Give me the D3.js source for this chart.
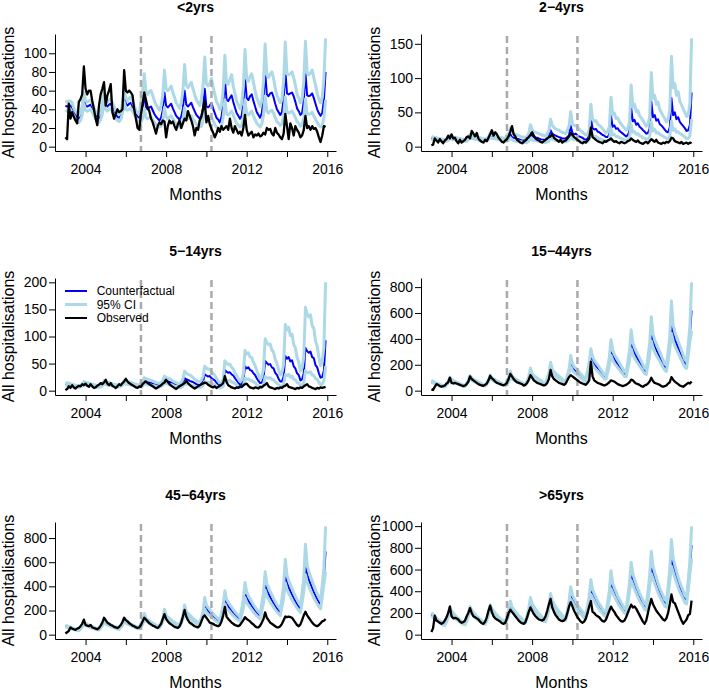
<!DOCTYPE html>
<html><head><meta charset="utf-8">
<script src="https://cdn.jsdelivr.net/npm/d3@7"></script>
<style>
body{margin:0;background:#fff;}
svg{display:block;font-family:"Liberation Sans",Arial,Helvetica,sans-serif;}
</style>
</head><body>
<svg id="chart" width="709" height="691"></svg>
<script>
// ---------------- DATA (monthly, Jan 2003 .. Dec 2015) ----------------
const startYear = 2003;
const nMonths = 156;
const xTickValues = [2004, 2006, 2008, 2010, 2012, 2014, 2016];
const xTickLabels = ["2004", "", "2008", "", "2012", "", "2016"];
const interventionDates = [2006.75, 2010.25];
const panelTitles = ["<2yrs", "2\u22124yrs", "5\u221214yrs", "15\u221244yrs", "45\u221264yrs", ">65yrs"];
const yTicks_lt2 = [0, 20, 40, 60, 80, 100];
const yTicks_2_4 = [0, 50, 100, 150];
const yTicks_5_14 = [0, 50, 100, 150, 200];
const yTicks_15_44 = [0, 200, 400, 600, 800];
const yTicks_45_64 = [0, 200, 400, 600, 800];
const yTicks_65 = [0, 200, 400, 600, 800, 1000];
const legendLabels = ["Counterfactual", "95% CI", "Observed"];

// <2yrs
const obs_lt2 = [
10,8,46,30,37,32,28,25,48,51,56,86,
62,56,60,60,49,40,30,23,44,56,62,69,
44,55,60,67,37,30,35,40,37,38,40,82,
60,58,60,58,55,40,30,20,18,35,46,58,
50,42,38,30,26,20,14,22,26,24,28,27,
10,22,28,25,27,22,18,24,28,20,25,30,
28,38,33,28,22,12,20,18,28,32,40,49,
26,33,24,19,15,10,14,20,16,22,18,20,
22,18,30,20,15,22,18,14,16,12,20,34,
18,12,14,16,10,13,12,14,11,12,15,13,
20,18,19,14,12,20,15,13,10,8,14,35,
22,8,25,20,12,22,18,15,10,12,18,33,
20,22,18,22,19,20,16,10,5,12,22,21];
const cf_lt2 = [
44,43,44,44,42,37,34,31,30,32,39,52,
44,43,44,45,42,37,34,31,30,33,40,53,
45,43,45,46,42,38,34,32,31,33,41,54,
46,44,46,47,43,39,35,32,31,35,42,56,
42,40,42,43,39,35,32,30,28,31,39,58,
44,42,44,46,41,37,33,31,29,32,41,60,
45,43,45,47,42,38,34,32,30,33,42,62,
43,42,44,47,41,36,31,29,26,32,45,72,
50,49,52,55,48,42,36,33,30,33,46,74,
52,50,54,56,49,43,37,34,31,36,50,80,
56,54,57,58,53,46,40,37,34,37,51,82,
57,56,57,58,54,48,41,38,34,36,49,79,
55,54,55,57,52,46,40,36,33,36,50,80];
const upper_lt2 = [
49,48,49,49,47,41,38,35,34,36,44,58,
49,48,49,50,47,41,38,35,34,37,45,59,
50,48,50,51,47,43,38,36,35,37,46,60,
52,49,52,53,48,44,39,36,35,49,59,78,
59,56,59,60,55,49,45,42,39,44,55,82,
62,60,62,65,58,53,47,44,41,47,60,88,
66,63,66,69,62,56,50,47,44,51,65,96,
67,65,68,73,64,56,48,45,40,44,61,98,
68,67,72,77,65,57,49,45,41,46,64,104,
73,70,75,78,69,60,52,48,43,49,69,110,
77,74,78,80,73,63,55,51,47,51,70,112,
78,77,78,80,74,66,56,52,47,51,70,113,
79,77,79,82,74,66,57,51,47,52,73,116];
const lower_lt2 = [
39,38,39,39,37,33,30,27,26,28,34,46,
39,38,39,40,37,33,30,27,26,29,35,47,
40,38,40,41,37,33,30,28,27,29,36,48,
40,39,40,41,38,34,31,28,27,26,31,41,
31,30,31,32,29,26,24,22,21,22,28,42,
32,30,32,33,30,27,24,22,21,22,29,42,
32,30,32,33,29,27,24,22,21,22,29,42,
29,29,30,32,28,24,21,20,18,22,32,50,
35,34,36,38,34,29,25,23,21,22,31,50,
35,34,36,38,33,29,25,23,21,24,34,54,
38,36,38,39,36,31,27,25,23,24,33,53,
37,36,37,38,35,31,27,25,22,23,31,51,
35,35,35,37,33,29,26,23,21,22,31,50];

// 2-4yrs
const obs_2_4 = [
2,3,12,9,6,11,8,5,9,11,16,12,
18,12,13,8,5,10,6,8,10,14,15,12,
23,19,15,20,12,9,7,6,10,8,13,18,
24,16,21,18,13,10,7,6,9,11,15,22,
30,18,15,10,8,6,5,7,9,12,14,17,
21,16,12,10,9,7,6,8,10,12,14,15,
18,13,11,9,7,10,6,8,9,12,15,20,
17,14,12,10,8,6,5,7,6,9,12,28,
14,12,10,8,7,6,5,8,7,9,10,12,
9,7,8,6,5,7,6,5,6,8,9,12,
10,8,7,9,6,5,4,6,7,5,8,11,
9,7,10,6,5,4,6,5,7,6,8,13,
12,8,7,6,5,7,4,5,6,4,6,5];
const cf_2_4 = [
13,12,12,11,11,10,10,9,9,9,11,15,
13,12,12,11,11,10,10,9,9,10,12,16,
14,13,12,12,12,11,10,10,10,11,12,17,
14,14,13,13,12,12,11,11,10,11,13,18,
14,13,12,11,11,10,9,9,9,10,12,20,
16,14,13,13,12,11,10,10,10,12,14,24,
19,17,16,15,14,13,12,12,12,14,17,30,
20,18,19,16,15,14,13,11,10,12,16,41,
27,25,26,22,21,19,17,16,14,14,18,45,
29,31,26,27,23,21,19,17,15,17,23,57,
37,39,32,34,29,27,24,22,19,20,26,66,
43,46,38,40,33,31,28,25,22,21,28,71,
46,50,40,43,36,33,30,27,23,24,32,79];
const upper_2_4 = [
15,14,13,13,12,12,11,11,10,11,12,17,
15,14,13,13,12,12,11,11,10,11,13,18,
16,15,14,14,13,13,12,11,11,12,14,20,
17,16,15,15,14,13,13,12,12,17,19,27,
21,19,18,17,16,15,14,14,13,15,19,32,
25,22,21,20,19,18,17,16,15,19,23,40,
31,28,26,25,24,22,21,20,19,24,30,51,
33,31,31,28,26,23,21,19,17,18,25,62,
40,37,38,33,31,29,26,23,20,22,29,72,
47,49,41,42,36,33,30,27,24,27,36,90,
58,62,51,53,45,42,38,34,30,32,43,108,
70,75,62,65,54,50,45,41,36,40,53,132,
86,92,75,80,66,61,55,50,44,47,63,158];
const lower_2_4 = [
11,10,10,10,9,9,8,8,8,8,9,13,
11,10,10,10,9,9,8,8,8,8,10,14,
12,11,11,10,10,9,9,8,8,9,10,14,
12,12,11,11,10,10,9,9,9,8,9,13,
10,9,8,8,8,7,7,6,6,6,8,13,
10,9,9,8,8,7,7,7,6,7,8,14,
11,10,9,9,9,8,7,7,7,8,10,17,
11,10,11,9,9,8,7,7,6,7,10,25,
16,15,15,13,12,11,10,9,8,8,10,26,
17,18,15,15,13,12,11,10,9,10,13,32,
21,22,18,19,16,15,13,12,11,11,14,36,
23,25,20,21,18,17,15,14,12,11,15,37,
24,26,21,22,19,18,16,14,12,12,16,40];

// 5-14yrs
const obs_5_14 = [
1,3,8,5,10,6,4,7,9,8,12,10,
13,9,7,12,8,5,6,9,11,14,12,15,
20,13,10,14,9,7,5,8,12,10,14,17,
22,17,14,12,10,8,6,5,8,7,12,15,
17,14,12,10,8,6,4,6,8,10,13,15,
20,16,12,9,7,5,3,6,8,10,12,14,
18,14,11,8,6,4,6,8,10,12,13,15,
14,11,9,7,6,8,5,7,9,11,14,27,
16,10,8,6,5,4,6,5,8,7,10,12,
13,9,6,5,4,6,5,4,7,6,9,11,
14,8,6,5,4,3,5,4,6,5,8,9,
12,7,6,5,4,3,5,4,6,5,8,10,
12,8,7,5,4,3,5,4,6,5,6,7];
const cf_5_14 = [
13,12,11,11,10,9,8,8,8,8,10,14,
13,12,11,11,10,9,8,8,8,8,11,15,
14,13,12,12,11,10,9,8,8,9,11,16,
14,14,13,12,12,11,10,9,9,10,13,18,
16,15,15,14,13,12,11,10,10,11,14,20,
18,17,16,15,14,12,11,10,9,10,13,23,
21,20,18,17,16,14,12,11,10,13,17,30,
28,26,27,23,21,19,15,12,9,10,15,38,
35,33,34,30,28,23,19,15,11,12,18,45,
41,43,38,37,32,29,23,18,14,15,22,55,
51,48,49,43,41,33,29,22,17,17,26,64,
59,62,54,56,45,41,32,29,19,21,32,79,
73,70,72,62,60,47,43,32,24,25,37,93];
const upper_5_14 = [
15,14,14,13,12,11,10,9,9,9,12,17,
15,14,14,13,12,11,10,9,9,10,13,18,
16,15,15,14,13,12,11,10,10,11,13,19,
17,16,16,15,14,13,12,11,10,14,17,24,
22,21,20,19,18,16,15,14,13,15,19,27,
24,23,22,20,18,16,15,13,12,16,21,36,
32,30,29,27,24,21,19,17,16,20,26,45,
41,40,40,35,32,28,23,18,14,15,22,55,
51,48,49,43,40,33,28,22,17,20,30,74,
68,70,62,61,52,47,37,30,22,26,39,96,
89,85,86,75,71,58,50,39,29,33,49,122,
112,117,102,104,85,79,61,53,36,42,62,154,
142,136,140,120,115,92,82,62,46,54,80,200];
const lower_5_14 = [
11,10,10,9,9,8,7,7,6,7,8,12,
11,10,10,9,9,8,7,7,6,7,9,13,
11,11,10,10,9,8,8,7,7,8,10,14,
12,12,11,11,10,9,8,8,7,7,9,13,
12,11,11,10,9,9,8,7,7,8,10,14,
13,12,11,11,10,8,8,7,6,6,8,14,
12,12,11,10,9,8,7,7,6,7,10,17,
15,15,15,13,12,11,8,7,5,6,8,21,
19,18,19,16,15,13,10,8,6,6,9,23,
21,22,19,19,16,15,11,9,7,7,11,26,
24,23,24,21,20,16,14,11,8,8,12,30,
28,30,25,27,21,20,15,14,9,10,15,37,
34,33,35,29,28,22,21,15,11,12,18,45];

// 15-44yrs
const obs_15_44 = [
10,5,30,50,45,35,30,35,40,55,65,100,
60,55,60,55,50,45,40,35,40,50,70,110,
90,80,70,60,50,45,40,38,45,55,80,115,
95,85,70,60,55,50,45,42,48,60,90,130,
110,90,75,65,60,55,50,40,45,60,85,120,
100,80,70,60,55,50,45,40,45,60,90,160,
110,90,80,70,60,55,50,45,55,80,105,120,
110,100,90,80,70,60,55,50,45,60,80,225,
110,80,70,60,55,50,45,40,45,55,65,80,
75,70,60,50,45,40,35,40,45,55,65,85,
80,65,55,50,45,35,30,40,45,55,70,100,
75,60,55,50,45,35,30,35,40,55,65,105,
85,70,60,50,40,35,30,40,50,60,55,70];
const cf_15_44 = [
72,65,60,54,49,44,39,34,32,48,67,95,
81,72,67,61,55,49,44,38,36,53,74,105,
89,80,74,67,61,55,48,42,40,55,77,110,
94,84,77,70,64,57,51,44,42,60,84,120,
102,91,84,77,70,62,55,48,46,70,98,140,
119,106,98,90,81,73,64,56,53,88,123,175,
149,133,123,112,102,91,81,70,67,108,151,215,
183,163,151,138,125,112,99,86,82,135,189,270,
230,205,189,173,157,140,124,108,103,160,224,320,
272,243,224,205,186,166,147,128,122,190,266,380,
323,289,266,243,220,198,175,152,144,225,315,450,
383,342,315,288,261,234,207,180,171,260,364,520,
442,395,364,333,302,270,239,208,198,310,434,620];
const upper_15_44 = [
79,72,66,59,54,48,43,37,35,53,74,105,
89,79,74,67,61,54,48,42,40,58,81,116,
98,88,81,74,67,61,53,46,44,61,85,121,
103,92,85,77,70,63,56,48,46,75,105,150,
112,100,92,85,77,68,61,53,51,77,108,175,
131,117,108,99,89,80,70,62,58,97,135,220,
164,146,135,123,112,100,89,77,74,119,166,271,
210,187,174,159,144,129,114,99,94,155,217,324,
265,236,217,199,181,161,143,124,118,184,258,394,
313,279,258,236,214,191,169,147,140,219,306,471,
371,332,306,279,253,228,201,175,166,259,362,572,
440,393,362,331,300,269,238,207,197,299,419,692,
508,454,419,383,347,311,275,239,228,357,499,837];
const lower_15_44 = [
65,59,54,49,44,40,35,31,29,43,60,86,
73,65,60,55,50,44,40,34,32,48,67,95,
80,72,67,60,55,50,43,38,36,50,69,99,
85,76,69,63,58,51,46,40,38,49,69,98,
92,82,76,69,63,56,50,43,41,63,88,119,
107,95,88,81,73,66,58,50,48,79,111,149,
134,120,111,101,92,82,73,63,60,97,136,183,
159,142,131,120,109,97,86,75,71,117,164,230,
200,178,164,151,137,122,108,94,90,139,195,272,
237,211,195,178,162,144,128,111,106,165,231,323,
281,251,231,211,191,172,152,132,125,196,274,383,
333,298,274,251,227,204,180,157,149,226,317,442,
385,344,317,290,263,235,208,181,172,270,378,460];

// 45-64yrs
const obs_45_64 = [
10,20,30,60,50,45,40,50,55,70,90,125,
80,75,70,80,60,55,50,45,55,75,100,140,
120,100,90,80,75,65,60,55,65,80,105,140,
120,110,95,85,75,70,60,55,60,80,110,140,
125,110,95,85,75,70,60,55,70,90,130,170,
130,110,95,85,75,65,60,55,70,100,150,205,
150,120,100,90,80,70,65,60,75,110,145,160,
140,120,100,95,90,80,75,70,80,110,160,230,
150,130,115,100,90,80,75,70,80,100,120,145,
130,120,110,95,85,70,60,60,75,100,130,185,
140,120,100,90,80,70,60,60,70,90,120,150,
145,150,145,140,120,100,80,70,85,120,160,190,
160,140,120,100,85,75,70,80,95,110,115,130];
const cf_45_64 = [
72,66,61,56,51,47,43,39,36,52,70,100,
85,78,72,66,60,55,50,46,42,60,81,115,
98,90,83,76,69,63,58,53,48,65,88,125,
106,98,90,83,75,69,63,58,53,75,102,145,
123,113,104,96,87,80,73,67,61,88,119,170,
145,133,122,112,102,94,85,78,71,107,144,205,
174,160,148,135,123,113,103,94,86,130,175,250,
213,195,180,165,150,138,125,115,105,156,210,300,
255,234,216,198,180,165,150,138,126,187,252,360,
306,281,259,238,216,198,180,166,151,225,303,433,
368,338,312,286,260,238,217,199,182,262,352,503,
428,392,362,332,302,277,252,231,211,304,410,585,
497,456,421,386,351,322,293,269,246,359,483,690];
const upper_45_64 = [
79,73,67,62,56,52,47,43,40,57,77,110,
94,86,79,73,66,61,55,51,46,66,89,127,
108,99,91,84,76,69,64,58,53,72,97,138,
117,108,99,91,83,76,69,64,58,91,123,175,
135,124,114,106,96,88,80,74,67,97,131,211,
160,146,134,123,112,103,94,86,78,118,158,246,
191,176,163,149,135,124,113,103,95,143,193,308,
245,224,207,190,173,159,144,132,121,179,242,363,
293,269,248,228,207,190,173,159,145,215,290,432,
352,323,298,274,248,228,207,191,174,259,348,520,
423,389,359,329,299,274,250,229,209,301,405,624,
492,451,416,382,347,319,290,266,243,350,472,749,
572,524,484,444,404,370,337,309,283,413,555,897];
const lower_45_64 = [
65,59,55,50,46,42,39,35,32,47,63,90,
77,70,65,59,54,50,45,41,38,54,73,104,
88,81,75,68,62,57,52,48,43,59,79,113,
95,88,81,75,68,62,57,52,48,62,84,119,
111,102,94,86,78,72,66,60,55,79,107,145,
131,120,110,101,92,85,77,70,64,96,130,174,
157,144,133,122,111,102,93,85,77,117,158,213,
185,170,157,144,131,120,109,100,91,136,183,255,
222,204,188,172,157,144,131,120,110,163,219,306,
266,244,225,207,188,172,157,144,131,196,264,368,
320,294,271,249,226,207,189,173,158,228,306,428,
372,341,315,289,263,241,219,201,184,264,357,497,
432,397,366,336,305,280,255,234,214,312,420,520];

// >65yrs
const obs_65 = [
25,60,175,130,120,110,100,110,130,160,200,260,
170,150,155,150,140,120,110,115,130,170,200,245,
200,170,160,150,140,120,105,100,120,160,220,268,
210,170,150,140,130,120,105,100,110,150,200,230,
210,190,170,150,130,115,105,100,115,160,210,250,
220,190,170,155,140,135,130,140,170,220,280,330,
250,210,180,160,140,130,125,130,150,200,260,300,
260,220,190,160,140,120,110,120,150,200,260,310,
210,200,180,170,160,140,125,120,140,180,220,258,
230,210,180,160,140,125,120,130,160,200,240,277,
250,260,240,210,180,150,120,100,130,200,270,330,
280,250,220,200,180,160,140,130,150,200,280,370,
300,290,250,210,170,130,100,120,140,180,190,314];
const cf_65 = [
189,172,157,142,129,118,108,97,92,127,173,230,
202,184,168,152,138,127,115,104,99,132,180,240,
211,192,175,158,144,132,120,108,103,140,191,255,
224,204,186,168,153,140,128,115,110,149,203,270,
238,216,197,178,162,149,135,122,116,165,225,300,
264,240,219,198,180,165,150,135,129,182,248,330,
290,264,241,218,198,182,165,149,142,209,285,380,
334,304,277,251,228,209,190,171,163,237,323,430,
378,344,314,284,258,237,215,194,185,270,368,490,
431,392,358,323,294,270,245,221,211,319,435,580,
510,464,423,383,348,319,290,261,249,359,489,652,
574,522,476,430,391,359,326,293,280,402,548,730,
642,584,533,482,438,402,365,329,314,454,619,825];
const upper_65 = [
204,186,170,153,139,127,117,105,99,137,187,248,
218,199,181,164,149,137,124,112,107,143,194,259,
228,207,189,171,156,143,130,117,111,151,206,275,
242,220,201,181,165,151,138,124,119,171,233,311,
257,233,213,192,175,161,146,132,125,178,243,342,
285,259,237,214,194,178,162,146,139,197,268,380,
313,285,260,235,214,197,178,161,153,226,308,441,
367,334,305,276,251,230,209,188,179,261,355,507,
416,378,345,312,284,261,237,213,204,297,405,588,
474,431,394,355,323,297,270,243,232,351,479,667,
561,510,465,421,383,351,319,287,274,395,538,769,
631,574,524,473,430,395,359,322,308,442,603,876,
706,642,586,530,482,442,402,362,345,499,681,998];
const lower_65 = [
174,158,144,131,119,109,99,89,85,117,159,212,
186,169,155,140,127,117,106,96,91,121,166,221,
194,177,161,145,132,121,110,99,95,129,176,235,
206,188,171,155,141,129,118,106,101,128,175,232,
219,199,181,164,149,137,124,112,107,152,207,258,
243,221,201,182,166,152,138,124,119,167,228,284,
267,243,222,201,182,167,152,137,131,192,262,327,
301,274,249,226,205,188,171,154,147,213,291,370,
340,310,283,256,232,213,194,175,167,243,331,421,
388,353,322,291,265,243,221,199,190,287,392,499,
459,418,381,345,313,287,261,235,224,323,440,561,
517,470,428,387,352,323,293,264,252,362,493,628,
578,526,480,434,394,362,329,296,283,409,557,700];

// ---------------- DRAWING ----------------
const panels = [
  {title: panelTitles[0], obs: obs_lt2, cf: cf_lt2, upper: upper_lt2, lower: lower_lt2, yTicks: yTicks_lt2},
  {title: panelTitles[1], obs: obs_2_4, cf: cf_2_4, upper: upper_2_4, lower: lower_2_4, yTicks: yTicks_2_4},
  {title: panelTitles[2], obs: obs_5_14, cf: cf_5_14, upper: upper_5_14, lower: lower_5_14, yTicks: yTicks_5_14, legend: true},
  {title: panelTitles[3], obs: obs_15_44, cf: cf_15_44, upper: upper_15_44, lower: lower_15_44, yTicks: yTicks_15_44},
  {title: panelTitles[4], obs: obs_45_64, cf: cf_45_64, upper: upper_45_64, lower: lower_45_64, yTicks: yTicks_45_64},
  {title: panelTitles[5], obs: obs_65, cf: cf_65, upper: upper_65, lower: lower_65, yTicks: yTicks_65}
];

const dates = d3.range(nMonths).map(i => startYear + i / 12);
const svg = d3.select("#chart");
const colX = [55, 421], rowTop = [34, 278, 522];
const plotW = 281, plotH = 117;
const COL_CF = "#0000ff", COL_CI = "#add8e6", COL_OBS = "#000000", COL_DASH = "#aaaaaa";
const FONT = '"Liberation Sans",Arial,Helvetica,sans-serif';

const xMin = d3.min(dates), xMax = d3.max(dates);
const xPad = (xMax - xMin) * 0.04;

panels.forEach((p, k) => {
  const col = k % 2, row = Math.floor(k / 2);
  const g = svg.append("g").attr("transform", `translate(${colX[col]},${rowTop[row]})`);
  const x = d3.scaleLinear().domain([xMin - xPad, xMax + xPad]).range([0, plotW]);
  const yMax = d3.max([...p.upper, ...p.cf, ...p.obs]);
  const y = d3.scaleLinear().domain([-0.04 * yMax, 1.04 * yMax]).range([plotH, 0]);
  const line = d3.line().x((d, i) => x(dates[i])).y(d => y(d));

  g.append("path").attr("d", line(p.cf)).attr("fill", "none")
    .attr("stroke", COL_CF).attr("stroke-width", 2).attr("stroke-linejoin", "round");
  [p.upper, p.lower].forEach(a => {
    g.append("path").attr("d", line(a)).attr("fill", "none")
      .attr("stroke", COL_CI).attr("stroke-width", 3).attr("stroke-linejoin", "round");
  });
  interventionDates.forEach(v => {
    g.append("line").attr("x1", x(v)).attr("x2", x(v)).attr("y1", 2).attr("y2", plotH)
      .attr("stroke", COL_DASH).attr("stroke-width", 2.5).attr("stroke-dasharray", "7,4");
  });
  g.append("path").attr("d", line(p.obs)).attr("fill", "none")
    .attr("stroke", COL_OBS).attr("stroke-width", 2.3).attr("stroke-linejoin", "round");

  // axes
  const xAxis = d3.axisBottom(x).tickValues(xTickValues).tickSize(6).tickSizeOuter(0).tickPadding(7)
    .tickFormat(d => xTickLabels[xTickValues.indexOf(d)]);
  const gx = g.append("g").attr("transform", `translate(0,${plotH})`).call(xAxis);
  const yAxis = d3.axisLeft(y).tickValues(p.yTicks).tickSize(6).tickSizeOuter(0).tickPadding(2)
    .tickFormat(d3.format("d"));
  const gy = g.append("g").call(yAxis);
  [gx, gy].forEach(a => {
    a.selectAll("path, line").attr("stroke", "#000").attr("stroke-width", 1);
    a.selectAll("text").attr("fill", "#000").attr("font-size", 14).attr("font-family", FONT);
  });

  // title & labels
  g.append("text").attr("x", plotW / 2).attr("y", -22).attr("text-anchor", "middle")
    .attr("font-weight", "bold").attr("font-size", 14).text(p.title);
  g.append("text").attr("x", plotW / 2).attr("y", plotH + 49).attr("text-anchor", "middle")
    .attr("font-size", 16).text("Months");
  g.append("text").attr("transform", `translate(-41.5,${plotH / 2}) rotate(-90)`)
    .attr("text-anchor", "middle").attr("font-size", 16).text("All hospitalisations");

  if (p.legend) {
    const items = [
      {label: legendLabels[0], color: COL_CF, w: 2},
      {label: legendLabels[1], color: COL_CI, w: 3},
      {label: legendLabels[2], color: COL_OBS, w: 2}
    ];
    const lg = g.append("g").attr("transform", "translate(10,13)");
    items.forEach((it, i) => {
      lg.append("line").attr("x1", 0).attr("x2", 22).attr("y1", i * 13.5).attr("y2", i * 13.5)
        .attr("stroke", it.color).attr("stroke-width", it.w);
      lg.append("text").attr("x", 31.7).attr("y", i * 13.5).attr("dy", "0.35em")
        .attr("font-size", 12).text(it.label);
    });
  }
});
</script>
</body></html>
